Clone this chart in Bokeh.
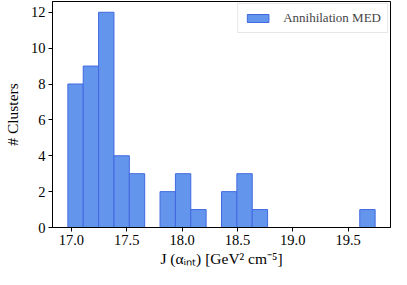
import numpy as np
from bokeh.plotting import figure
from bokeh.models import ColumnDataSource, Range1d, FixedTicker, Legend, LegendItem
from bokeh.embed import file_html
from bokeh.resources import INLINE

# Histogram data
bin_min = 16.968
bin_max = 19.744
n_bins = 20
counts = [8, 9, 12, 4, 3, 0, 2, 3, 1, 0, 2, 3, 1, 0, 0, 0, 0, 0, 0, 1]
series_name = "Annihilation MED"
x_ticks = [17.0, 17.5, 18.0, 18.5, 19.0, 19.5]
y_ticks = [0, 2, 4, 6, 8, 10, 12]

edges = np.linspace(bin_min, bin_max, n_bins + 1)
lefts = [edges[i] for i in range(n_bins) if counts[i] > 0]
rights = [edges[i + 1] for i in range(n_bins) if counts[i] > 0]
tops = [counts[i] for i in range(n_bins) if counts[i] > 0]
src = ColumnDataSource(dict(left=lefts, right=rights, top=tops, bottom=[0] * len(tops)))

span = bin_max - bin_min
p = figure(width=391, height=269, output_backend="svg", toolbar_location=None,
           x_range=Range1d(bin_min - 0.05 * span, bin_max + 0.05 * span),
           y_range=Range1d(0, max(counts) * 1.05))
p.min_border_left = 41
p.min_border_right = 1
p.min_border_top = 1
p.min_border_bottom = 42

r = p.quad(left="left", right="right", top="top", bottom="bottom", source=src,
           fill_color="#6495ED", line_color="#4169E1", line_width=1)

p.xgrid.visible = False
p.ygrid.visible = False
p.outline_line_color = "black"
p.outline_line_width = 1

font = "Liberation Serif"
for ax in (p.xaxis[0], p.yaxis[0]):
    ax.major_label_text_font = font
    ax.major_label_text_font_size = "14.5px"
    ax.major_label_text_color = "black"
    ax.axis_label_text_font = font
    ax.axis_label_text_font_size = "15.5px"
    ax.axis_label_text_font_style = "normal"
    ax.axis_label_text_color = "black"
    ax.minor_tick_line_color = None
    ax.major_tick_in = 0
    ax.major_tick_out = 4
    ax.major_tick_line_color = "black"
    ax.axis_line_color = "black"

p.xaxis.ticker = FixedTicker(ticks=x_ticks)
p.yaxis.ticker = FixedTicker(ticks=y_ticks)
p.xaxis.major_label_overrides = {t: f"{t:.1f}" for t in x_ticks}
p.xaxis.axis_label = "J (\u03b1\u1d62\u2099\u209c) [GeV\u00b2 cm\u207b\u2075]"
p.yaxis.axis_label = "# Clusters"
p.xaxis.axis_label_standoff = 2
p.yaxis.axis_label_standoff = 7
p.xaxis.major_label_standoff = 3
p.yaxis.major_label_standoff = 3

legend = Legend(items=[LegendItem(label=series_name, renderers=[r])], location="top_right")
legend.label_text_font = font
legend.label_text_font_size = "13px"
legend.glyph_width = 27
legend.glyph_height = 10
legend.label_standoff = 12
legend.label_height = 14
legend.padding = 6
legend.margin = 2
legend.border_line_color = "#d0d0d0"
legend.border_line_width = 1
legend.background_fill_alpha = 0.8
p.add_layout(legend)

open("out.html", "w").write(file_html(p, INLINE))
